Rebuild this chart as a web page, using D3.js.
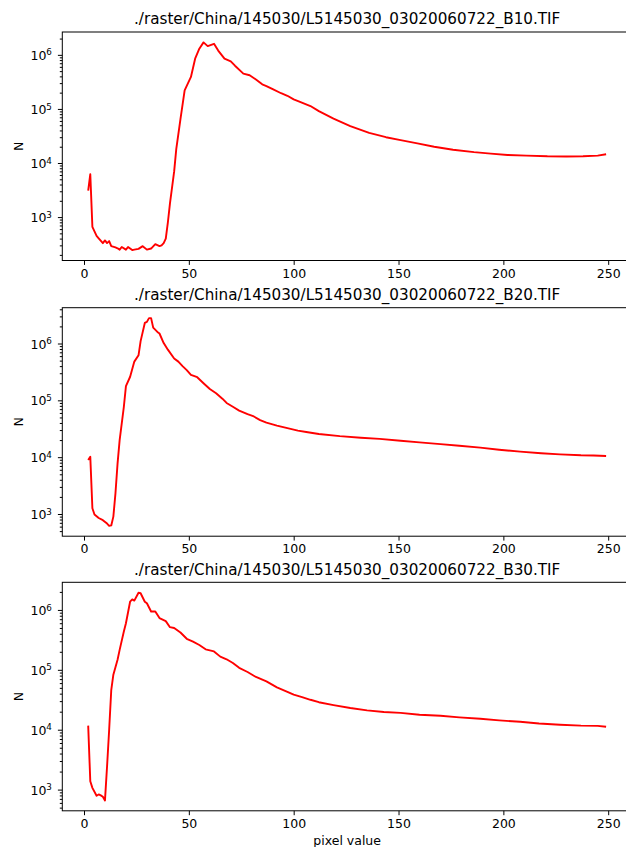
<!DOCTYPE html>
<html>
<head>
<meta charset="utf-8">
<script src="https://cdn.jsdelivr.net/npm/d3@7"></script>
<style>
body { margin: 0; background: #fff; }
svg text { font-family: "DejaVu Sans", sans-serif; }
</style>
</head>
<body>
<svg id="fig" width="626" height="847"></svg>
<script>
// values (pixel value -> count N)
var pixelB10 = [2,3,4,6,7,9,10,11,12,13,15,16,17,18,20,21,23,24,26,28,30,32,34,36,37,38,39,40,41,43,44,46,48,51,53,55,57,59,62,64,67,70,72,76,79,82,85,87,90,94,97,100,103,108,112,119,127,136,144,151,159,167,176,186,194,202,211,221,230,238,245,249]
var countB10 = [3100,6200,660,450,405,330,370,330,360,290,275,265,250,280,250,280,245,250,258,290,250,262,315,290,300,330,400,800,1800,7000,18000,65000,220000,390000,850000,1300000,1700000,1450000,1600000,1200000,850000,760000,630000,450000,420000,350000,285000,265000,232000,195000,175000,150000,135000,113000,91000,66000,48000,36000,30000,26500,23000,20000,17600,15900,14900,14100,13700,13300,13200,13300,13700,14500]

var pixelB20 = [2,3,4,5,7,9,11,12,13,14,15,16,17,19,20,22,24,26,27,29,30,31,32,33,35,36,38,40,43,45,47,49,51,54,57,60,63,66,68,71,74,78,81,84,87,92,97,102,106,112,122,132,141,151,160,170,179,189,198,208,218,227,237,243,249]
var countB20 = [8900,10200,1260,980,850,780,680,620,630,900,2300,7700,20000,77000,178000,260000,480000,620000,1100000,2300000,2400000,2800000,2800000,1900000,1600000,1500000,1020000,780000,545000,480000,400000,340000,280000,255000,200000,158000,133000,107000,90000,77000,66000,57000,52000,45000,40500,36000,32500,29300,27700,25600,23500,22000,21000,19500,18200,17000,15900,14700,13500,12500,11700,11200,10800,10700,10500]

var pixelB30 = [2,3,4,6,7,8,9,10,11,12,13,14,16,17,19,20,22,23,24,26,27,29,30,32,34,36,39,41,43,46,49,52,55,58,62,65,68,71,74,78,82,87,92,97,100,104,108,112,119,127,135,143,151,160,170,179,189,198,208,217,227,237,245,249]
var countB30 = [11700,1380,1070,790,830,800,760,660,2450,10000,46000,83000,147000,215000,435000,600000,1380000,1500000,1430000,1940000,1900000,1370000,1290000,940000,940000,730000,650000,515000,500000,420000,330000,296000,260000,220000,203000,166000,150000,130000,108000,92000,76000,64000,51000,43000,38500,35000,31600,28800,25800,23000,21000,19800,19100,17800,17100,16100,15200,14300,13600,12700,12100,11700,11600,11200]

var bandNames = ["B10", "B20", "B30"]
var titlePrefix = "./raster/China/145030/L5145030_03020060722_"
var xTicks = [0, 50, 100, 150, 200, 250]
var xLabel = "pixel value"
var yLabel = "N"

class HistPanel
{
    constructor(config)
    {
        this.setConfig(config)
    }

    setConfig(config)
    {
        this.config = config
        this.pixels = config.pixels
        this.counts = config.counts
        this.left = config.left
        this.top = config.top
        this.width = config.width
        this.height = config.height
        this.title = config.title
        this.showXLabel = config.showXLabel
    }

    // matplotlib style 5% margins
    getXDomain()
    {
        var min = d3.min(this.pixels), max = d3.max(this.pixels)
        var pad = (max - min) * 0.05
        return [min - pad, max + pad]
    }

    getYDomain()
    {
        var lo = Math.log10(d3.min(this.counts)), hi = Math.log10(d3.max(this.counts))
        var pad = (hi - lo) * 0.05
        return [Math.pow(10, lo - pad), Math.pow(10, hi + pad)]
    }

    compile()
    {
        var svg = d3.select("#fig")
        var g = svg.append("g").attr("transform", "translate(" + this.left + "," + this.top + ")")
        var w = this.width, h = this.height

        var xScale = d3.scaleLinear().domain(this.getXDomain()).range([0, w])
        var yDomain = this.getYDomain()
        var yScale = d3.scaleLog().domain(yDomain).range([h, 0])

        var majors = [], minors = []
        var e0 = Math.floor(Math.log10(yDomain[0])), e1 = Math.ceil(Math.log10(yDomain[1]))
        for(var e = e0; e <= e1; e++)
        {
            for(var k = 1; k < 10; k++)
            {
                var v = k * Math.pow(10, e)
                if(v < yDomain[0] || v > yDomain[1]) continue
                if(k == 1) majors.push(v)
                else minors.push(v)
            }
        }

        var pts = d3.zip(this.pixels, this.counts)
        g.append("path")
            .datum(pts)
            .attr("fill", "none")
            .attr("stroke", "#ff0000")
            .attr("stroke-width", 1.9)
            .attr("stroke-linejoin", "round")
            .attr("d", d3.line().x(d => xScale(d[0])).y(d => yScale(d[1])))

        // x axis
        var xg = g.append("g")
            .attr("transform", "translate(0," + h + ")")
            .call(d3.axisBottom(xScale).tickValues(xTicks).tickSize(4.4).tickPadding(4).tickSizeOuter(0).tickFormat(d3.format("d")))
        xg.select(".domain").remove()
        xg.attr("font-family", null).attr("font-size", 12.5)
        xg.selectAll(".tick text").attr("fill", "#000")

        // y axis, minor then major
        var yMinor = g.append("g")
            .call(d3.axisLeft(yScale).tickValues(minors).tickSize(2.5).tickSizeOuter(0).tickFormat(""))
        yMinor.select(".domain").remove()

        var yg = g.append("g")
            .call(d3.axisLeft(yScale).tickValues(majors).tickSize(4.4).tickPadding(6).tickSizeOuter(0))
        yg.select(".domain").remove()
        yg.attr("font-family", null).attr("font-size", 12.5)
        yg.selectAll(".tick text").each(function(d)
        {
            var t = d3.select(this)
            t.text(null).attr("fill", "#000").attr("dy", "0.36em")
            t.append("tspan").text("10")
            t.append("tspan").attr("dy", "-0.5em").attr("font-size", "0.7em").text(Math.round(Math.log10(d)))
        })
        g.selectAll(".tick line").attr("stroke", "#000").attr("stroke-width", 1)

        // frame
        g.append("rect")
            .attr("x", 0).attr("y", 0)
            .attr("width", w).attr("height", h)
            .attr("fill", "none")
            .attr("stroke", "#000")
            .attr("stroke-width", 1)

        g.append("text")
            .attr("x", w / 2)
            .attr("y", -7.6)
            .attr("text-anchor", "middle")
            .attr("font-size", 15.2)
            .text(this.title)

        g.append("text")
            .attr("transform", "translate(" + (23 - this.left) + "," + (h / 2) + ") rotate(-90)")
            .attr("text-anchor", "middle")
            .attr("font-size", 12.5)
            .text(yLabel)

        if(this.showXLabel)
        {
            g.append("text")
                .attr("x", w / 2)
                .attr("y", h + 34)
                .attr("text-anchor", "middle")
                .attr("font-size", 12.5)
                .text(xLabel)
        }
    }
}

var pixelSets = [pixelB10, pixelB20, pixelB30]
var countSets = [countB10, countB20, countB30]
var panelTops = [32, 307.7, 582.3]

for(var i = 0; i < bandNames.length; i++)
{
    var panel = new HistPanel({
        pixels: pixelSets[i],
        counts: countSets[i],
        left: 62.3,
        top: panelTops[i],
        width: 569.7,
        height: 228.5,
        title: titlePrefix + bandNames[i] + ".TIF",
        showXLabel: i == bandNames.length - 1
    })
    panel.compile()
}
</script>
</body>
</html>
